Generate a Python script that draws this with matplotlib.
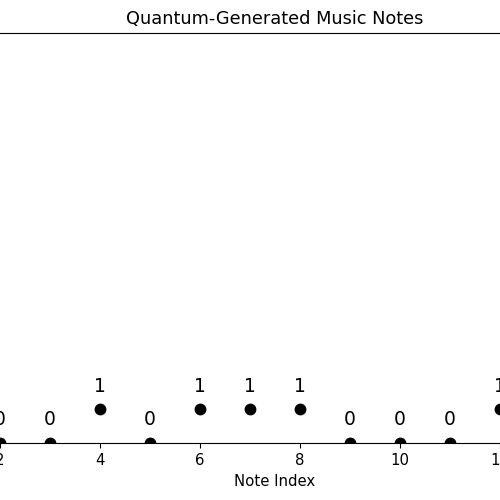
import matplotlib
matplotlib.use("Agg")
import matplotlib.pyplot as plt

note_index = [2, 3, 4, 5, 6, 7, 8, 9, 10, 11, 12]
note_value = [0, 0, 1, 0, 1, 1, 1, 0, 0, 0, 1]
tick_pos = [2, 4, 6, 8, 10, 12]

fig = plt.figure(figsize=(5, 5), dpi=100)
ax = fig.add_axes([-0.25, 0.1146, 1.6, 0.8194])

ax.plot(note_index, note_value, 'o', color='black', markersize=7.5)
for x, y in zip(note_index, note_value):
    ax.annotate(str(y), (x, y), textcoords='offset points', xytext=(0, 10),
                ha='center', va='bottom', fontsize=13.5)

ax.set_xlim(-0.5, 15.5)
ax.set_ylim(0, 12.3)
ax.set_xticks(tick_pos)
ax.set_yticks([])
ax.tick_params(axis='x', labelsize=10.7, length=3.7)
ax.set_xlabel("Note Index", fontsize=10.7, labelpad=4.2)
ax.set_title("Quantum-Generated Music Notes", fontsize=12.8, pad=6.3)
for side in ['left', 'right']:
    ax.spines[side].set_visible(False)

fig.savefig("out.png", dpi=100)
